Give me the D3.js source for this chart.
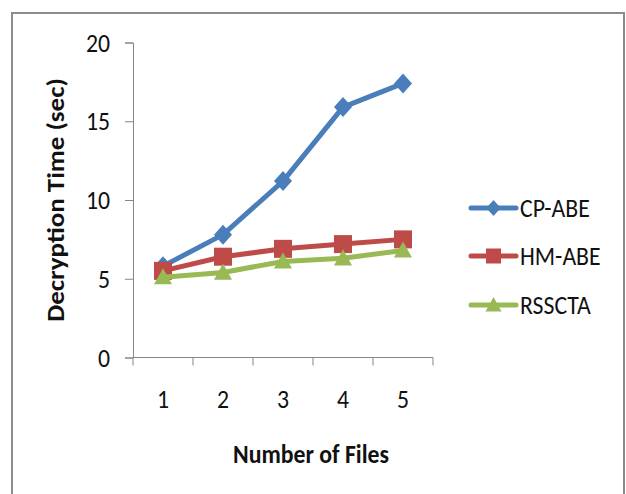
<!DOCTYPE html>
<html>
<head>
<meta charset="utf-8">
<script src="https://cdn.jsdelivr.net/npm/d3@7"></script>
<style>
  html, body { margin: 0; padding: 0; background: #fff; }
  svg { display: block; }
  text { font-family: Carlito, "Liberation Sans Narrow", "Liberation Sans", sans-serif; fill: #111; }
</style>
</head>
<body>
<div id="chart"></div>
<script>
// Decryption time (seconds) against number of files, per scheme
const files = ["1", "2", "3", "4", "5"];
const cpAbe = [5.8, 7.8, 11.2, 15.9, 17.4];
const hmAbe = [5.5, 6.4, 6.9, 7.2, 7.5];
const rsscta = [5.1, 5.4, 6.1, 6.3, 6.8];
const yTicks = [0, 5, 10, 15, 20];
const seriesNames = ["CP-ABE", "HM-ABE", "RSSCTA"];

const W = 626, H = 494;
const FONT = 27;       // label size
const SQUEEZE = 0.88;  // horizontal narrowing of the labels

const svg = d3.select("#chart").append("svg").attr("width", W).attr("height", H);

// outer frame
svg.append("rect")
  .attr("x", 12).attr("y", 13).attr("width", 612).attr("height", 520)
  .attr("fill", "none").attr("stroke", "#8c8c8c").attr("stroke-width", 2);

const plot = { left: 133, right: 433, top: 42.5, bottom: 357.5 };

const x = d3.scaleBand().domain(files).range([plot.left, plot.right]);
const y = d3.scaleLinear().domain([0, 20]).range([plot.bottom, plot.top]);

const axisColor = "#868686";

// y axis
const yAxis = svg.append("g")
  .attr("transform", `translate(${plot.left},0)`)
  .call(d3.axisLeft(y).tickValues(yTicks).tickSize(8).tickPadding(0));
yAxis.select(".domain").attr("stroke", axisColor);
yAxis.selectAll(".tick line").attr("stroke", axisColor);
yAxis.selectAll(".tick text")
  .attr("x", 0)
  .attr("transform", `translate(-23,0) scale(${SQUEEZE},1)`)
  .attr("font-size", FONT).attr("fill", "#111")
  .style("font-family", "Carlito, 'Liberation Sans Narrow', 'Liberation Sans', sans-serif");

// x axis: ticks on category boundaries, labels at category centres
const xAxisG = svg.append("g").attr("transform", `translate(0,${plot.bottom})`);
xAxisG.append("line")
  .attr("x1", plot.left).attr("x2", plot.right)
  .attr("stroke", axisColor);
const bounds = files.map(f => x(f)).concat([plot.right]);
xAxisG.selectAll("line.tk").data(bounds).join("line")
  .attr("class", "tk")
  .attr("x1", d => d).attr("x2", d => d)
  .attr("y1", 0).attr("y2", 8)
  .attr("stroke", axisColor);
xAxisG.selectAll("text").data(files).join("text")
  .attr("transform", d => `translate(${x(d) + x.bandwidth() / 2},50) scale(${SQUEEZE},1)`)
  .attr("text-anchor", "middle")
  .attr("font-size", FONT)
  .text(d => d);

// axis titles
svg.append("text")
  .attr("transform", `translate(64,${(plot.top + plot.bottom) / 2}) rotate(-90) scale(1.0,0.9)`)
  .attr("text-anchor", "middle")
  .attr("font-size", FONT).attr("font-weight", "bold")
  .text("Decryption Time (sec)");

svg.append("text")
  .attr("transform", `translate(311,463) scale(${SQUEEZE},1)`)
  .attr("text-anchor", "middle")
  .attr("font-size", FONT).attr("font-weight", "bold")
  .text("Number of Files");

// series
const series = [
  { name: seriesNames[0], values: cpAbe, color: "#4a7ebb", marker: "diamond" },
  { name: seriesNames[1], values: hmAbe, color: "#be4b48", marker: "square" },
  { name: seriesNames[2], values: rsscta, color: "#98b954", marker: "triangle" }
];

const markerPath = {
  diamond: s => `M0,${-s}L${s * 0.9},0L0,${s}L${-s * 0.9},0Z`,
  square: s => `M${-s},${-s}H${s}V${s}H${-s}Z`,
  triangle: s => `M0,${-s}L${s},${s * 0.8}L${-s},${s * 0.8}Z`
};
const markerSize = { diamond: 10, square: 9, triangle: 9 };

const line = d3.line()
  .x((d, i) => x(files[i]) + x.bandwidth() / 2)
  .y(d => y(d));

series.forEach(s => {
  const g = svg.append("g");
  g.append("path")
    .attr("d", line(s.values))
    .attr("fill", "none")
    .attr("stroke", s.color)
    .attr("stroke-width", 5)
    .attr("stroke-linejoin", "round")
    .attr("stroke-linecap", "round");
  g.selectAll("path.mk").data(s.values).join("path")
    .attr("class", "mk")
    .attr("transform", (d, i) => `translate(${x(files[i]) + x.bandwidth() / 2},${y(d)})`)
    .attr("d", markerPath[s.marker](markerSize[s.marker]))
    .attr("fill", s.color);
});

// legend
const legend = svg.append("g");
const legendY = [208, 256, 305];
series.forEach((s, i) => {
  const g = legend.append("g").attr("transform", `translate(0,${legendY[i]})`);
  g.append("line")
    .attr("x1", 471).attr("x2", 516)
    .attr("stroke", s.color).attr("stroke-width", 5).attr("stroke-linecap", "round");
  g.append("path")
    .attr("transform", "translate(493.5,0)")
    .attr("d", markerPath[s.marker](s.marker === "square" ? 7.5 : 8))
    .attr("fill", s.color);
  g.append("text")
    .attr("transform", `translate(520,0) scale(${SQUEEZE},1)`)
    .attr("dy", "0.35em")
    .attr("font-size", FONT)
    .text(s.name);
});
</script>
</body>
</html>
